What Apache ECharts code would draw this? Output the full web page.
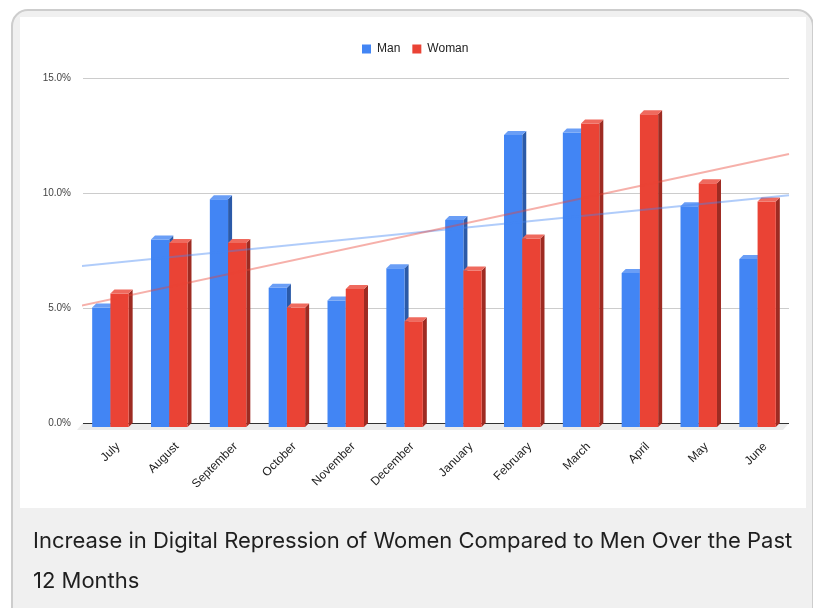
<!DOCTYPE html>
<html>
<head>
<meta charset="utf-8">
<script src="https://cdn.jsdelivr.net/npm/echarts@6/dist/echarts.min.js"></script>
<style>
  html, body { margin: 0; padding: 0; background: #fff; }
  #chart { width: 813px; height: 608px; }
</style>
</head>
<body>
<div id="chart"></div>
<script>
// months on the x axis
const months = ['July', 'August', 'September', 'October', 'November', 'December',
  'January', 'February', 'March', 'April', 'May', 'June'];
// bar values (%)
const manValues = [5.2, 8.15, 9.9, 6.05, 5.5, 6.9, 9.0, 12.7, 12.8, 6.7, 9.6, 7.3];
const womanValues = [5.8, 8.0, 8.0, 5.2, 6.0, 4.6, 6.8, 8.2, 13.2, 13.6, 10.6, 9.8];
// trend line ends: [left edge, right edge]
const trendX = [-0.62, 11.5];
const manTrend = [6.8, 9.9];
const womanTrend = [5.05, 11.7];

const chart = echarts.init(document.getElementById('chart'));

// 3d-looking bar: front face + right side + top face
function bar3d(front, side, top, shift) {
  return function (params, api) {
    const base = api.coord([api.value(0), 0]);
    const head = api.coord([api.value(0), api.value(1)]);
    const band = api.size([1, 0])[0];
    const w = band * 0.31;
    const d = 4;
    const x = base[0] - 2 + shift * w;
    const y0 = base[1] + d;
    const y1 = head[1] + d;
    return {
      type: 'group',
      children: [
        { type: 'polygon', shape: { points: [[x + w, y1], [x + w + d, y1 - d], [x + w + d, y0 - d], [x + w, y0]] }, style: { fill: side } },
        { type: 'rect', shape: { x: x, y: y1, width: w, height: y0 - y1 }, style: { fill: front } },
        { type: 'polygon', shape: { points: [[x, y1], [x + d, y1 - d], [x + w + d, y1 - d], [x + w, y1]] }, style: { fill: top } }
      ]
    };
  };
}

// grey floor under the bars and the dark baseline
function floor(params, api) {
  const cs = params.coordSys;
  const y0 = cs.y + cs.height;
  return {
    type: 'group',
    children: [
      { type: 'polygon', shape: { points: [[cs.x, y0], [cs.x + cs.width, y0], [cs.x + cs.width - 6, y0 + 7], [cs.x - 6, y0 + 7]] }, style: { fill: '#ececec' } },
      { type: 'line', shape: { x1: cs.x, y1: y0 + 0.5, x2: cs.x + cs.width, y2: y0 + 0.5 }, style: { stroke: '#333', lineWidth: 1 } }
    ]
  };
}

const option = {
  animation: false,
  textStyle: { fontFamily: 'Liberation Sans, Arial, sans-serif' },
  graphic: [
    { type: 'rect', z: -10, shape: { x: 12, y: 10, width: 801, height: 640, r: 16 }, style: { fill: '#f0f0f0', stroke: '#cdcdcd', lineWidth: 2 } },
    { type: 'rect', z: -9, shape: { x: 20, y: 17, width: 786, height: 491 }, style: { fill: '#fff' } }
  ],
  title: {
    text: 'Increase in Digital Repression of Women Compared to Men Over the Past\n12 Months',
    left: 33,
    top: 521,
    padding: 0,
    textStyle: {
      fontFamily: 'Inter, sans-serif',
      fontSize: 22,
      fontWeight: 'normal',
      color: '#1f1f1f',
      lineHeight: 40
    }
  },
  legend: {
    data: ['Man', 'Woman'],
    top: 38,
    left: 357,
    icon: 'rect',
    itemWidth: 9,
    itemHeight: 9,
    itemGap: 12,
    textStyle: { fontSize: 12, color: '#222', padding: [0, 0, 0, 1] }
  },
  grid: { left: 83, right: 24, top: 78, bottom: 185, outerBoundsMode: 'none' },
  xAxis: [
    {
      type: 'category',
      data: months,
      axisLine: { show: false },
      axisTick: { show: false },
      axisLabel: {
        rotate: 45, fontSize: 12, color: '#222', margin: 16, interval: 0,
        verticalAlign: 'top', lineHeight: 16
      }
    },
    { type: 'value', min: -0.5, max: 11.5, show: false }
  ],
  yAxis: {
    type: 'value',
    min: 0,
    max: 15,
    interval: 5,
    axisLine: { show: false },
    axisTick: { show: false },
    axisLabel: { fontSize: 10, color: '#444', margin: 12, formatter: v => v.toFixed(1) + '%' },
    splitLine: { lineStyle: { color: '#cccccc' } }
  },
  series: [
    {
      name: 'floor', type: 'custom', z: 1, silent: true,
      data: [[0, 0]],
      renderItem: floor
    },
    {
      name: 'Man', type: 'custom', z: 2,
      itemStyle: { color: '#4285f4' },
      encode: { x: 0, y: 1 },
      data: manValues.map((v, i) => [i, v]),
      renderItem: bar3d('#4285f4', '#2b5aa8', '#6a9ef6', -1)
    },
    {
      name: 'Woman', type: 'custom', z: 3,
      itemStyle: { color: '#ea4335' },
      encode: { x: 0, y: 1 },
      data: womanValues.map((v, i) => [i, v]),
      renderItem: bar3d('#ea4335', '#9e2b22', '#ef6a5e', 0)
    },
    {
      name: 'Man trend', type: 'line', xAxisIndex: 1, z: 5, clip: false,
      symbol: 'none',
      lineStyle: { color: '#4285f4', width: 2, opacity: 0.42 },
      data: trendX.map((x, i) => [x, manTrend[i]])
    },
    {
      name: 'Woman trend', type: 'line', xAxisIndex: 1, z: 5, clip: false,
      symbol: 'none',
      lineStyle: { color: '#ea4335', width: 2, opacity: 0.42 },
      data: trendX.map((x, i) => [x, womanTrend[i]])
    }
  ]
};

chart.setOption(option);
</script>
</body>
</html>
